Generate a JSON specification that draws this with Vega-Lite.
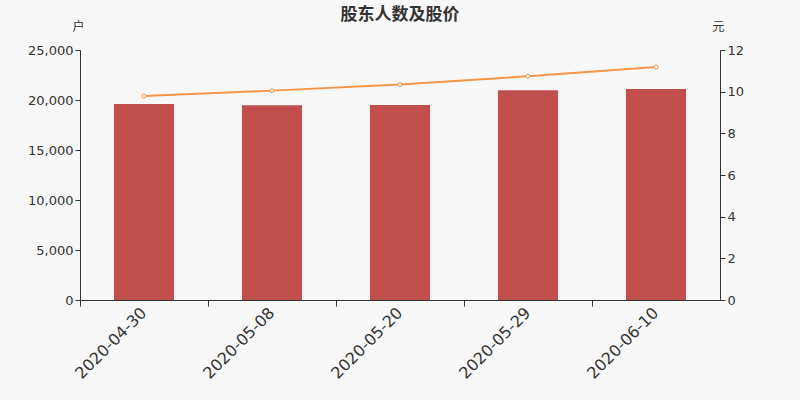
{
  "$schema": "https://vega.github.io/schema/vega-lite/v6.json",
  "autosize": "none",
  "width": 640,
  "height": 250,
  "padding": {"left": 80, "top": 50, "right": 80, "bottom": 100},
  "background": "#f8f8f8",
  "title": {"text": "股东人数及股价", "font": "Noto Sans CJK SC", "fontSize": 17, "fontWeight": "bold", "color": "#333333", "anchor": "middle", "offset": -4},
  "data": {"values": [
    {"date": "2020-04-30", "holders": 19600, "price": 9.79},
    {"date": "2020-05-08", "holders": 19470, "price": 10.05},
    {"date": "2020-05-20", "holders": 19500, "price": 10.34},
    {"date": "2020-05-29", "holders": 20970, "price": 10.74},
    {"date": "2020-06-10", "holders": 21100, "price": 11.18}
  ]},
  "encoding": {
    "x": {"field": "date", "type": "nominal", "sort": null,
      "scale": {"paddingInner": 0, "paddingOuter": 0},
      "axis": {"title": null, "labelAngle": -45, "labelAlign": "right", "labelBaseline": "middle", "labelFontSize": 16, "labelFont": "DejaVu Sans", "labelColor": "#333333", "domainColor": "#333333", "tickColor": "#333333", "bandPosition": 0, "tickSize": 6, "labelPadding": 4, "grid": false}
    }
  },
  "layer": [
    {
      "mark": {"type": "bar", "color": "#c0504d", "width": {"band": 0.47}},
      "encoding": {
        "y": {"field": "holders", "type": "quantitative", "scale": {"domain": [0, 25000]},
          "axis": {"title": "户", "titleAngle": 0, "titleX": -2, "titleY": -17, "titleAlign": "center", "titleBaseline": "bottom", "titleFont": "Noto Sans CJK SC", "titleFontSize": 12, "titleFontWeight": "normal", "titleColor": "#333333", "format": ",.0f", "values": [0, 5000, 10000, 15000, 20000, 25000], "labelFontSize": 13, "labelFont": "DejaVu Sans", "labelColor": "#333333", "domainColor": "#333333", "tickColor": "#333333", "grid": false, "tickSize": 5}
        }
      }
    },
    {
      "mark": {"type": "line", "color": "#f79646", "strokeWidth": 2, "point": {"filled": true, "fill": "#ffffff", "stroke": "#f79646", "strokeWidth": 1, "size": 16}},
      "encoding": {
        "y": {"field": "price", "type": "quantitative", "scale": {"domain": [0, 12]},
          "axis": {"orient": "right", "title": "元", "titleAngle": 0, "titleX": -2, "titleY": -17, "titleAlign": "center", "titleBaseline": "bottom", "titleFont": "Noto Sans CJK SC", "titleFontSize": 12, "titleFontWeight": "normal", "titleColor": "#333333", "values": [0, 2, 4, 6, 8, 10, 12], "labelFontSize": 13, "labelFont": "DejaVu Sans", "labelColor": "#333333", "domainColor": "#333333", "tickColor": "#333333", "grid": false, "tickSize": 5}
        }
      }
    }
  ],
  "resolve": {"scale": {"y": "independent"}},
  "config": {"view": {"stroke": null}}
}
